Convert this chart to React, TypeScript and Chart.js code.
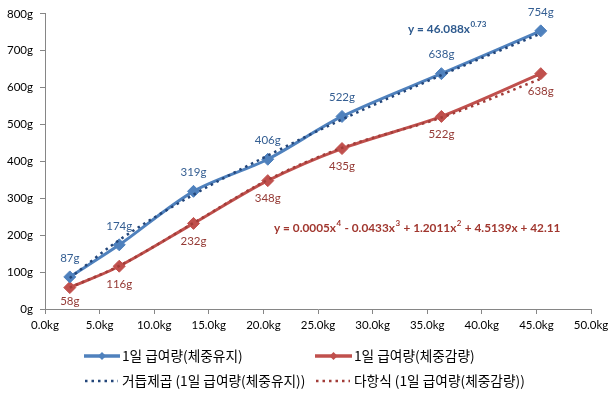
import React, { useEffect, useRef } from 'react';
import { Chart, registerables } from 'chart.js';
Chart.register(...registerables);

// ---- data ----
const weightKg = [2.27, 6.8, 13.6, 20.4, 27.2, 36.3, 45.4];
const maintainG = [87, 174, 319, 406, 522, 638, 754];
const lossG = [58, 116, 232, 348, 435, 522, 638];
const powerTrendG = [84, 187, 310, 416, 514, 634, 747];
const polyTrendG = [58, 117, 233, 350, 437, 519, 624];
const seriesNames = [
  '1일 급여량(체중유지)',
  '1일 급여량(체중감량)',
  '거듭제곱 (1일 급여량(체중유지))',
  '다항식 (1일 급여량(체중감량))',
];
const powerEquation: [string, string][] = [['y = 46.088x', '0.73']];
const polyEquation: [string, string][] = [
  ['y = 0.0005x', '4'],
  [' - 0.0433x', '3'],
  [' + 1.2011x', '2'],
  [' + 4.5139x + 42.11', ''],
];
const xMin = 0, xMax = 50, xStep = 5;
const yMin = 0, yMax = 800, yStep = 100;

// ---- styles ----
const BLUE = '#4F81BD';
const RED = '#C0504D';
const BLUE_TREND = '#23467A';
const RED_TREND = '#A23C38';
const BLUE_LABEL = '#345E92';
const RED_LABEL = '#953A35';
const LATIN = 'Lato, "Noto Sans", sans-serif';
const KR = '"Noto Sans CJK KR", sans-serif';

const pts = (ys: number[]) => weightKg.map((x, i) => ({ x, y: ys[i] }));

function drawEquation(ctx: CanvasRenderingContext2D, parts: [string, string][], x: number, y: number, color: string) {
  ctx.save();
  ctx.fillStyle = color;
  ctx.textBaseline = 'middle';
  ctx.textAlign = 'left';
  let cx = x;
  for (const [base, sup] of parts) {
    ctx.font = `bold 11.8px ${LATIN}`;
    ctx.fillText(base, cx, y);
    cx += ctx.measureText(base).width;
    if (sup) {
      ctx.font = `bold 8px ${LATIN}`;
      ctx.fillText(sup, cx + 0.5, y - 4.5);
      cx += ctx.measureText(sup).width + 1;
    }
  }
  ctx.restore();
}

const overlayPlugin = {
  id: 'overlay',
  afterDatasetsDraw(chart: any) {
    const ctx: CanvasRenderingContext2D = chart.ctx;
    const area = chart.chartArea;
    // data labels
    ctx.save();
    ctx.font = `11.5px ${LATIN}`;
    ctx.textAlign = 'center';
    ctx.textBaseline = 'middle';
    const m0 = chart.getDatasetMeta(0);
    m0.data.forEach((p: any, i: number) => {
      ctx.fillStyle = BLUE_LABEL;
      ctx.fillText(maintainG[i] + 'g', p.x, p.y - 19);
    });
    const m1 = chart.getDatasetMeta(1);
    m1.data.forEach((p: any, i: number) => {
      ctx.fillStyle = RED_LABEL;
      let ly = p.y + 18;
      if (ly > area.bottom - 8) ly = area.bottom - 8;
      ctx.fillText(lossG[i] + 'g', p.x, ly);
    });
    ctx.restore();
    drawEquation(ctx, powerEquation, 408, 29, '#2E5A8E');
    drawEquation(ctx, polyEquation, 274, 228, '#A1372F');
  },
  afterDraw(chart: any) {
    const ctx: CanvasRenderingContext2D = chart.ctx;
    ctx.save();
    const rows = [356, 381];
    const cols = [{ x0: 84, x1: 120, tx: 122 }, { x0: 315, x1: 352, tx: 354 }];
    // solid samples
    [BLUE, RED].forEach((c, k) => {
      const col = cols[k];
      ctx.strokeStyle = c;
      ctx.lineWidth = 3.5;
      ctx.setLineDash([]);
      ctx.beginPath();
      ctx.moveTo(col.x0, rows[0]);
      ctx.lineTo(col.x1, rows[0]);
      ctx.stroke();
      const mx = (col.x0 + col.x1) / 2;
      ctx.fillStyle = c;
      ctx.beginPath();
      ctx.moveTo(mx - 4, rows[0]);
      ctx.lineTo(mx, rows[0] - 4);
      ctx.lineTo(mx + 4, rows[0]);
      ctx.lineTo(mx, rows[0] + 4);
      ctx.closePath();
      ctx.fill();
    });
    // dotted samples
    [BLUE_TREND, RED_TREND].forEach((c, k) => {
      const col = cols[k];
      ctx.strokeStyle = c;
      ctx.lineWidth = 2.5;
      ctx.setLineDash([2.5, 4]);
      ctx.beginPath();
      ctx.moveTo(col.x0 + 1, rows[1]);
      ctx.lineTo(col.x1 - 2, rows[1]);
      ctx.stroke();
    });
    ctx.setLineDash([]);
    ctx.fillStyle = '#000';
    ctx.font = `13.7px ${KR}`;
    ctx.textAlign = 'left';
    ctx.textBaseline = 'middle';
    ctx.fillText(seriesNames[0], cols[0].tx, rows[0]);
    ctx.fillText(seriesNames[1], cols[1].tx, rows[0]);
    ctx.fillText(seriesNames[2], cols[0].tx, rows[1]);
    ctx.fillText(seriesNames[3], cols[1].tx, rows[1]);
    ctx.restore();
  },
};

export default function App() {
  const ref = useRef<HTMLCanvasElement>(null);
  useEffect(() => {
    if (!ref.current) return;
    const chart = new Chart(ref.current, {
      type: 'scatter',
      data: {
        datasets: [
          {
            label: seriesNames[0],
            data: pts(maintainG),
            showLine: true,
            borderColor: BLUE,
            backgroundColor: BLUE,
            borderWidth: 3,
            tension: 0.3,
            pointStyle: 'rectRot',
            pointRadius: 6,
            pointBorderWidth: 1,
            order: 2,
          },
          {
            label: seriesNames[1],
            data: pts(lossG),
            showLine: true,
            borderColor: RED,
            backgroundColor: RED,
            borderWidth: 3,
            tension: 0.3,
            pointStyle: 'rectRot',
            pointRadius: 6,
            pointBorderWidth: 1,
            order: 2,
          },
          {
            label: seriesNames[2],
            data: pts(powerTrendG),
            showLine: true,
            borderColor: BLUE_TREND,
            borderWidth: 2.5,
            borderDash: [2.5, 4],
            cubicInterpolationMode: 'monotone',
            pointRadius: 0,
            order: 1,
          },
          {
            label: seriesNames[3],
            data: pts(polyTrendG),
            showLine: true,
            borderColor: RED_TREND,
            borderWidth: 2.5,
            borderDash: [2.5, 4],
            cubicInterpolationMode: 'monotone',
            pointRadius: 0,
            order: 1,
          },
        ],
      },
      options: {
        animation: false,
        responsive: true,
        maintainAspectRatio: false,
        layout: { padding: { left: 0, right: 25, top: 13, bottom: 0 } },
        plugins: { legend: { display: false }, tooltip: { enabled: false } },
        scales: {
          x: {
            type: 'linear',
            min: xMin,
            max: xMax,
            afterFit: (s: any) => { s.height = 84; },
            ticks: {
              stepSize: xStep,
              color: '#000',
              font: { family: LATIN, size: 11.5 },
              padding: 4,
              maxRotation: 0,
              callback: (v: any) => Number(v).toFixed(1) + 'kg',
            },
            grid: { drawOnChartArea: false, drawTicks: true, tickLength: 5, color: '#868686' },
            border: { color: '#868686', width: 1 },
          },
          y: {
            type: 'linear',
            min: yMin,
            max: yMax,
            afterFit: (s: any) => { s.width = 45; },
            ticks: {
              stepSize: yStep,
              color: '#000',
              font: { family: LATIN, size: 11.5 },
              padding: 7,
              callback: (v: any) => v + 'g',
            },
            grid: { drawOnChartArea: false, drawTicks: true, tickLength: 5, color: '#868686' },
            border: { color: '#868686', width: 1 },
          },
        },
      },
      plugins: [overlayPlugin],
    } as any);
    return () => chart.destroy();
  }, []);
  return (
    <div style={{ position: 'fixed', left: 0, top: 0, width: 616, height: 393, background: '#fff' }}>
      <canvas ref={ref} />
    </div>
  );
}
